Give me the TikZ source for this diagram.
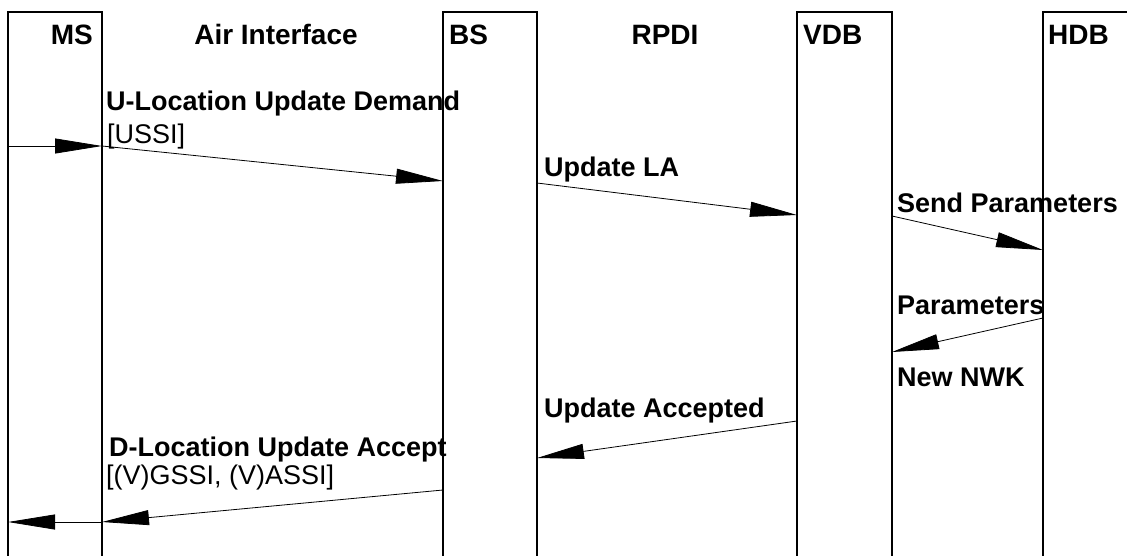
\documentclass[tikz,border=0pt]{standalone}
\usepackage{fontspec}
\setmainfont{Liberation Sans}
\usetikzlibrary{arrows.meta}
\begin{document}
\begin{tikzpicture}[x=1pt,y=-1pt,
  lifeline/.style={line width=2pt},
  msg/.style={line width=0.8pt, -{Triangle[length=47pt,width=15pt]}},
  lbl/.style={anchor=base west, inner sep=0pt, font=\fontsize{27}{31}\selectfont\bfseries},
  head/.style={anchor=base west, inner sep=0pt, font=\fontsize{28}{32}\selectfont\bfseries},
  sub/.style={anchor=base west, inner sep=0pt, font=\fontsize{27}{31}\selectfont},
]
\useasboundingbox (0,0) rectangle (1127,555);
\clip (0,0) rectangle (1127,555);
% lifeline boxes (open at the bottom)
\draw[lifeline] (8,620) -- (8,12) -- (102,12) -- (102,620);
\draw[lifeline] (443,620) -- (443,12) -- (537,12) -- (537,620);
\draw[lifeline] (797,620) -- (797,12) -- (892,12) -- (892,620);
\draw[lifeline] (1043,620) -- (1043,12) -- (1137,12) -- (1137,620);
% headers
\node[head, anchor=base east] (hms) at (93,44) {MS};
\node[head, anchor=base] (hair) at (276,44) {Air Interface};
\node[head] (hbs) at (449,44) {BS};
\node[head, anchor=base] (hrpdi) at (665,44) {RPDI};
\node[head] (hvdb) at (803,44) {VDB};
\node[head] (hhdb) at (1048,44) {HDB};
% message end points
\coordinate (a1s) at (8,146);
\coordinate (a1e) at (102,146);
\coordinate (a2e) at (443,181);
\coordinate (a3s) at (537,183);
\coordinate (a3e) at (797,215);
\coordinate (a4s) at (892,216);
\coordinate (a4e) at (1043,250);
\coordinate (a5s) at (1043,318);
\coordinate (a5e) at (892,352);
\coordinate (a6s) at (797,421);
\coordinate (a6e) at (537,458);
\coordinate (a7s) at (443,490);
\coordinate (a7e) at (102,522);
\coordinate (a8e) at (8,522);
% messages
\draw[msg] (a1s) -- (a1e);
\draw[msg] (a1e) -- (a2e);
\draw[msg] (a3s) -- (a3e);
\draw[msg] (a4s) -- (a4e);
\draw[msg] (a5s) -- (a5e);
\draw[msg] (a6s) -- (a6e);
\draw[msg] (a7s) -- (a7e);
\draw[msg] (a7e) -- (a8e);
% labels
\node[lbl] (l1) at (106,110) {U-Location Update Demand};
\node[sub] (l1b) at (107,143) {[USSI]};
\node[lbl] (l2) at (544,176) {Update LA};
\node[lbl] (l3) at (897,212) {Send Parameters};
\node[lbl] (l4) at (897,314) {Parameters};
\node[lbl] (l5) at (897,386) {New NWK};
\node[lbl] (l6) at (544,417) {Update Accepted};
\node[lbl] (l7) at (109,456) {D-Location Update Accept};
\node[sub] (l7b) at (106,484) {[(V)GSSI, (V)ASSI]};
\end{tikzpicture}
\end{document}
